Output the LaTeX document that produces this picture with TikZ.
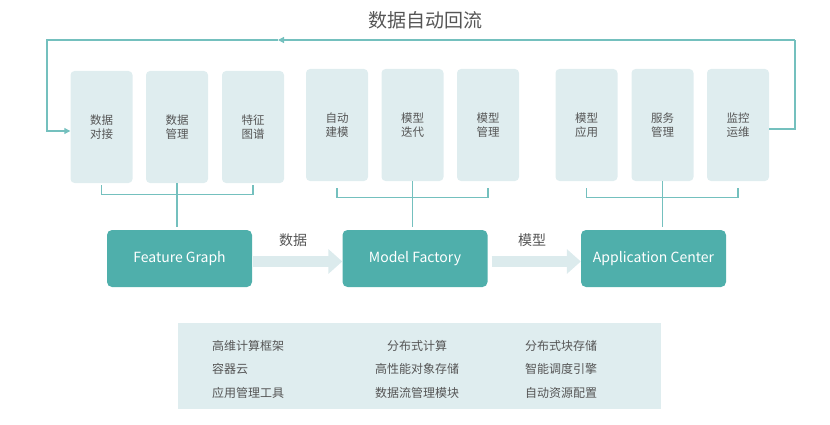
\documentclass[tikz,border=0pt]{standalone}
\usepackage{fontspec}
\setmainfont{Noto Sans CJK SC}
\usetikzlibrary{arrows.meta}
\definecolor{coreteal}{HTML}{4FAFAB}
\definecolor{tilebg}{HTML}{DFEDEF}
\definecolor{flowbg}{HTML}{DCEBED}
\definecolor{linkteal}{HTML}{74C0BE}
\definecolor{txtgray}{HTML}{555555}

\begin{document}
\begin{tikzpicture}[x=1pt,y=-1pt,
  tile/.style={fill=tilebg,rounded corners=4pt,minimum width=62pt,minimum height=112pt,
    inner sep=0pt,align=center,text=txtgray,font=\fontsize{11.5}{14}\selectfont},
  core/.style={fill=coreteal,rounded corners=5pt,minimum width=145pt,minimum height=57pt,
    inner sep=0pt,text=white,font=\fontsize{14}{16}\selectfont},
  link/.style={draw=linkteal,line width=1.2pt},
  flow/.style={draw=flowbg,line width=11pt,-{Triangle[length=14pt,width=24pt]}},
  lbl/.style={text=txtgray,inner sep=0pt,font=\fontsize{14}{16}\selectfont},
  item/.style={text=txtgray,inner sep=0pt,font=\fontsize{12}{14}\selectfont}]
\useasboundingbox (0,0) rectangle (830,425);
\node[lbl,font=\fontsize{19}{22}\selectfont] (title) at (425.5,20) {数据自动回流};
            % Tiles
\node[tile] (dataIn)      at (101.5,127) {数据\\对接};
\node[tile] (dataMgmt)    at (177,127)   {数据\\管理};
\node[tile] (featMap)     at (253,127)   {特征\\图谱};
\node[tile] (autoBuild)   at (337,125)   {自动\\建模};
\node[tile] (iterate)     at (412.5,125) {模型\\迭代};
\node[tile] (modelMgmt)   at (488,125)   {模型\\管理};
\node[tile] (modelApp)    at (586.5,125) {模型\\应用};
\node[tile] (serviceMgmt) at (662.5,125) {服务\\管理};
\node[tile] (monitor)     at (738,125)   {监控\\运维};
            % Cores
\node[core] (FG) at (179.5,258.5) {Feature Graph};
\node[core] (MF) at (415,258.5)   {Model Factory};
\node[core] (AC) at (653.5,258.5) {Application Center};
%Tile groups
\draw[link] ([yshift=-2pt]dataIn.south) |- ([yshift=-11pt]dataMgmt.south) -| ([yshift=-2pt]featMap.south);
\draw[link] (dataMgmt.south) -- ([yshift=3pt]dataMgmt.south |- FG.north);
\draw[link] ([yshift=-7pt]autoBuild.south) |- ([yshift=-16pt]iterate.south) -| ([yshift=-7pt]modelMgmt.south);
\draw[link] (iterate.south) -- ([yshift=3pt]iterate.south |- MF.north);
\draw[link] ([yshift=-7pt]modelApp.south) |- ([yshift=-16pt]serviceMgmt.south) -| ([yshift=-7pt]monitor.south);
\draw[link] (serviceMgmt.south) -- ([yshift=3pt]serviceMgmt.south |- AC.north);
%Flow
\draw[flow,shorten <=1pt] ([yshift=-3pt]FG.east) -- ([yshift=-3pt]MF.west);
\draw[flow,shorten <=4pt] ([yshift=-3pt]MF.east) -- ([yshift=-3pt]AC.west);
\node[lbl] (dataLbl)  at (293,240) {数据};
\node[lbl] (modelLbl) at (532,240) {模型};
%Feedback
\coordinate (fbR)   at (795,40);
\coordinate (fbMid) at (278,40);
\coordinate (fbL)   at (47,40);
\draw[link] ([yshift=-4pt]monitor.east) -| (fbR);
\draw[link,-{Triangle[length=6pt,width=6pt]}] (fbR) -- (fbMid);
\draw[link,-{Triangle[length=6pt,width=6pt]}] (fbMid) -- (fbL) |- ([yshift=-4pt]dataIn.west);
%Infrastructure
\node[fill=tilebg,minimum width=483pt,minimum height=86pt,inner sep=0pt] (infra) at (419.5,366) {};
\node[item,anchor=west] (hdc)  at (212,346) {高维计算框架};
\node[item,anchor=west] (ctr)  at (212,369) {容器云};
\node[item,anchor=west] (aps)  at (212,393) {应用管理工具};
\node[item]             (dcp)  at (417,346) {分布式计算};
\node[item]             (obj)  at (417,369) {高性能对象存储};
\node[item]             (dfm)  at (417,393) {数据流管理模块};
\node[item,anchor=west] (blk)  at (525,346) {分布式块存储};
\node[item,anchor=west] (sch)  at (525,369) {智能调度引擎};
\node[item,anchor=west] (res)  at (525,393) {自动资源配置};

          \end{tikzpicture}
\end{document}
